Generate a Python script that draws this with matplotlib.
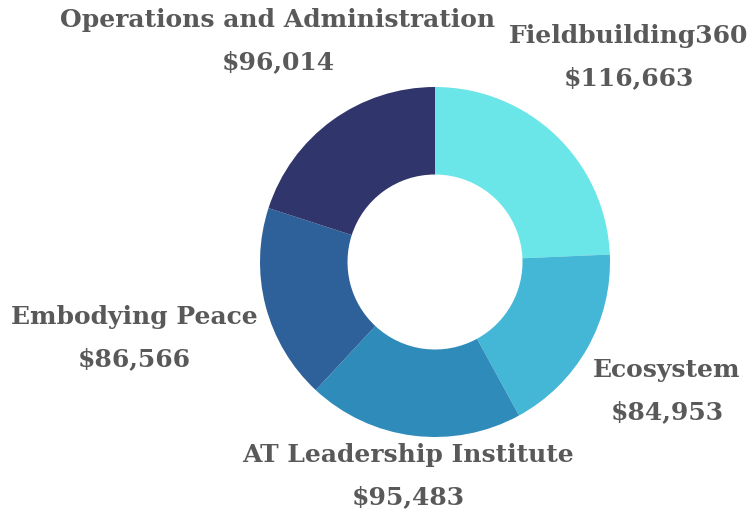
import matplotlib

matplotlib.use("Agg")
import matplotlib.pyplot as plt

# budget by program, clockwise from the top
programs = [
    "Fieldbuilding360",
    "Ecosystem",
    "AT Leadership Institute",
    "Embodying Peace",
    "Operations and Administration",
]
amounts = [116663, 84953, 95483, 86566, 96014]
colors = ["#6ae5e8", "#44b6d6", "#2f8bba", "#2e6099", "#30356c"]

# label anchor points in pixels (x, y from top) for name line; value line sits below
label_px = [(629, 36), (667, 370), (408, 455), (134, 317), (278, 20)]

W, H = 754, 518
CX, CY, R = 435, 262, 175

fig = plt.figure(figsize=(W / 100, H / 100), dpi=100)
ax = fig.add_axes([(CX - R) / W, (H - CY - R) / H, 2 * R / W, 2 * R / H])
ax.pie(
    amounts,
    colors=colors,
    startangle=90,
    counterclock=False,
    radius=1.0,
    wedgeprops={"width": 0.5, "linewidth": 0},
)
ax.set_xlim(-1, 1)
ax.set_ylim(-1, 1)
ax.set_aspect("equal")
ax.axis("off")

font = {"family": "DejaVu Serif", "weight": "bold", "size": 18, "color": "#595959"}
for name, amount, (px, py) in zip(programs, amounts, label_px):
    fig.text(px / W, 1 - py / H, name, ha="center", va="center", **font)
    fig.text(px / W, 1 - (py + 42) / H, f"${amount:,}", ha="center", va="center", **font)

fig.savefig("out.png", dpi=100)
plt.close(fig)
